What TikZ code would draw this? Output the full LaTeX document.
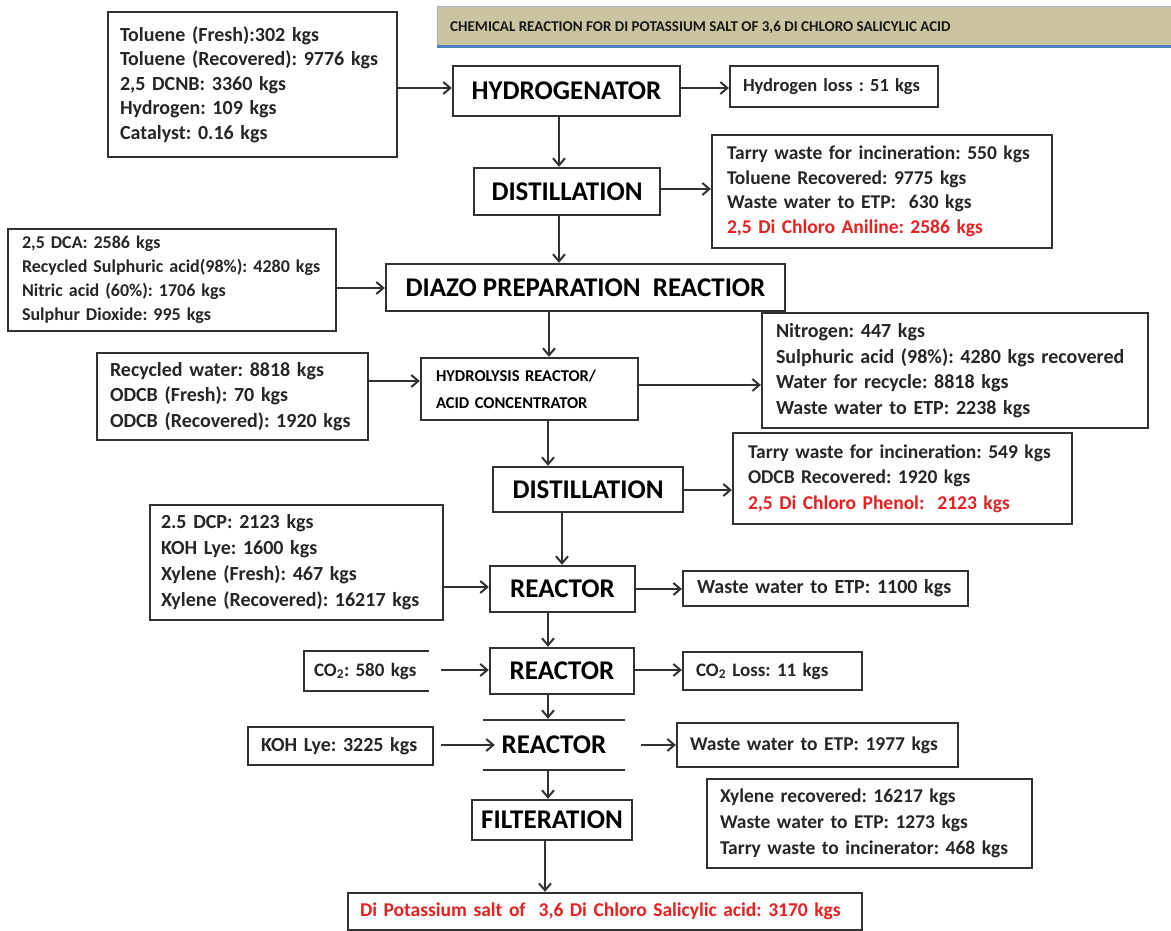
\documentclass[tikz,border=0pt]{standalone}
\usepackage{fontspec}
\setmainfont{Carlito}
\usetikzlibrary{arrows.meta}
\definecolor{ln}{RGB}{50,50,50}
\definecolor{rd}{RGB}{232,32,32}
\definecolor{tan}{RGB}{203,196,160}
\definecolor{tb}{RGB}{160,175,200}
\definecolor{tblue}{RGB}{79,129,189}
\frenchspacing
\tikzset{
  inbox/.style={draw=ln, line width=2.2pt, fill=white, align=left, inner ysep=2pt,
    font=\fontsize{20}{24.5}\selectfont\bfseries, text=black!85},
  proc/.style={draw=ln, line width=2.4pt, fill=white, align=center, inner sep=0pt,
    font=\fontsize{27}{30}\selectfont\bfseries, text=black},
  arr/.style={draw=ln, line width=2.4pt, -{Straight Barb[length=7pt,width=12pt,line width=2pt]}},
  ln2/.style={draw=ln, line width=2.4pt}
}
\begin{document}
\begin{tikzpicture}[x=1pt,y=-1pt]
\useasboundingbox (0,0) rectangle (1171,931);

% title
\fill[tan] (437,7) rectangle (1175,47);
\draw[tb, line width=1pt] (437,47) -- (437,7) -- (1175,7);
\draw[tblue, line width=3pt] (437,47) -- (1175,47);
\node[anchor=west, font=\fontsize{15}{17}\selectfont\bfseries, text=black!90, inner sep=0pt] (title) at (450,27)
  {CHEMICAL REACTION FOR DI POTASSIUM SALT OF 3,6 DI CHLORO SALICYLIC ACID};

% process boxes
\node[proc, minimum width=227pt, minimum height=50pt] (hyd) at (566.5,91) {HYDROGENATOR};
\node[proc, minimum width=186pt, minimum height=47pt] (dist1) at (567,191.5) {DISTILLATION};
\node[proc, minimum width=399pt, minimum height=47pt] (diazo) at (585.5,287.5) {DIAZO PREPARATION\ \ REACTIOR};
\node[proc, minimum width=217pt, minimum height=62pt, text width=187pt, align=left,
  font=\fontsize{16.5}{27}\selectfont\bfseries] (hydro) at (529.5,389) {HYDROLYSIS REACTOR/\\ACID CONCENTRATOR};
\node[proc, minimum width=190pt, minimum height=45pt] (dist2) at (588,489.5) {DISTILLATION};
\node[proc, minimum width=145pt, minimum height=46pt] (r1) at (562.5,589) {REACTOR};
\node[proc, minimum width=144pt, minimum height=46pt] (r2) at (562,671) {REACTOR};
\node[proc, draw=none, fill=none, minimum width=116pt, minimum height=50pt] (r3) at (554,745) {REACTOR};
\draw[ln2] (483,720) -- (625,720);
\draw[ln2] (483,770) -- (625,770);
\node[proc, minimum width=160pt, minimum height=40pt] (filt) at (552,820) {FILTERATION};

% input / output boxes
\node[inbox, minimum width=289pt, minimum height=145pt, text width=265pt, inner xsep=12pt] (in1) at (252.5,84.5)
  {Toluene (Fresh):302 kgs\\Toluene (Recovered): 9776 kgs\\2,5 DCNB: 3360 kgs\\Hydrogen: 109 kgs\\Catalyst: 0.16 kgs};
\node[inbox, minimum width=208pt, minimum height=41pt, text width=182pt, inner xsep=13pt,
  font=\fontsize{18.5}{22}\selectfont\bfseries] (hloss) at (834,86.5)
  {Hydrogen loss : 51 kgs};
\node[inbox, minimum width=340pt, minimum height=113pt, text width=310pt, inner xsep=15pt,
  font=\fontsize{19.5}{24.5}\selectfont\bfseries] (out1) at (882,191.5)
  {Tarry waste for incineration: 550 kgs\\Toluene Recovered: 9775 kgs\\Waste water to ETP:\ \ 630 kgs\\\textcolor{rd}{2,5 Di Chloro Aniline: 2586 kgs}};
\node[inbox, minimum width=328pt, minimum height=102pt, text width=300pt, inner xsep=14pt,
  font=\fontsize{18}{24}\selectfont\bfseries] (in2) at (172,280)
  {2,5 DCA: 2586 kgs\\Recycled Sulphuric acid(98\%): 4280 kgs\\Nitric acid (60\%): 1706 kgs\\Sulphur Dioxide: 995 kgs};
\node[inbox, minimum width=271pt, minimum height=87pt, text width=245pt, inner xsep=13pt,
  font=\fontsize{20}{25.5}\selectfont\bfseries] (in3) at (232.5,396.5)
  {Recycled water: 8818 kgs\\ODCB (Fresh): 70 kgs\\ODCB (Recovered): 1920 kgs};
\node[inbox, minimum width=386pt, minimum height=115pt, text width=358pt, inner xsep=14pt,
  font=\fontsize{20}{25.5}\selectfont\bfseries] (out2) at (955,370.5)
  {Nitrogen: 447 kgs\\Sulphuric acid (98\%): 4280 kgs recovered\\Water for recycle: 8818 kgs\\Waste water to ETP: 2238 kgs};
\node[inbox, minimum width=339pt, minimum height=91pt, text width=309pt, inner xsep=15pt,
  font=\fontsize{19.5}{25.5}\selectfont\bfseries] (out3) at (902.5,478.5)
  {Tarry waste for incineration: 549 kgs\\ODCB Recovered: 1920 kgs\\\textcolor{rd}{2,5 Di Chloro Phenol:\ \ 2123 kgs}};
\node[inbox, minimum width=293pt, minimum height=115pt, text width=271pt, inner xsep=11pt,
  font=\fontsize{20}{26}\selectfont\bfseries] (in4) at (296.5,562.5)
  {2.5 DCP: 2123 kgs\\KOH Lye: 1600 kgs\\Xylene (Fresh): 467 kgs\\Xylene (Recovered): 16217 kgs};
\node[inbox, minimum width=285pt, minimum height=35pt, text width=257pt, inner xsep=14pt,
  font=\fontsize{20}{22}\selectfont\bfseries] (out4) at (825.5,588.5)
  {Waste water to ETP: 1100 kgs};
% CO2 box (open on the right)
\node[inbox, draw=none, fill=none, minimum width=123pt, minimum height=38pt, text width=105pt, inner xsep=9pt,
  font=\fontsize{19}{22}\selectfont\bfseries] (co2) at (366.5,671)
  {CO\textsubscript{2}: 580 kgs};
\draw[draw=ln, line width=2.2pt] (co2.north east) -- (co2.north west) -- (co2.south west) -- (co2.south east);
\node[inbox, minimum width=179pt, minimum height=38pt, text width=153pt, inner xsep=13pt,
  font=\fontsize{19}{22}\selectfont\bfseries] (co2loss) at (772.5,671)
  {CO\textsubscript{2} Loss: 11 kgs};
\node[inbox, minimum width=185pt, minimum height=38pt, text width=159pt, inner xsep=13pt,
  font=\fontsize{20}{22}\selectfont\bfseries] (koh) at (340.5,746)
  {KOH Lye: 3225 kgs};
\node[inbox, minimum width=281pt, minimum height=44pt, text width=255pt, inner xsep=13pt,
  font=\fontsize{19.5}{22}\selectfont\bfseries] (out5) at (817.5,745)
  {Waste water to ETP: 1977 kgs};
\node[inbox, minimum width=325pt, minimum height=89pt, text width=299pt, inner xsep=13pt,
  font=\fontsize{19.5}{26}\selectfont\bfseries] (out6) at (869.5,823.5)
  {Xylene recovered: 16217 kgs\\Waste water to ETP: 1273 kgs\\Tarry waste to incinerator: 468 kgs};
\node[inbox, minimum width=514pt, minimum height=37pt, text width=490pt, inner xsep=12pt,
  font=\fontsize{19.5}{22}\selectfont\bfseries, text=rd] (final) at (605,911.5)
  {Di Potassium salt of\ \ 3,6 Di Chloro Salicylic acid: 3170 kgs};

% vertical connectors
\draw[arr] (hyd.south -| 559,0) -- (dist1.north -| 559,0);
\draw[arr] (dist1.south -| 559,0) -- (diazo.north -| 559,0);
\draw[arr] (diazo.south -| 549,0) -- (hydro.north -| 549,0);
\draw[arr] (hydro.south -| 548,0) -- (dist2.north -| 548,0);
\draw[arr] (dist2.south -| 562,0) -- (r1.north -| 562,0);
\draw[arr] (r1.south -| 548,0) -- (r2.north -| 548,0);
\draw[arr] (r2.south -| 548,0) -- (r3.north -| 548,0);
\draw[arr] (r3.south -| 548,0) -- (filt.north -| 548,0);
\draw[arr] (filt.south -| 545,0) -- (final.north -| 545,0);

% horizontal connectors
\draw[arr] (in1.east |- 0,88) -- (hyd.west |- 0,88);
\draw[arr] (hyd.east |- 0,88) -- (hloss.west |- 0,88);
\draw[arr] (dist1.east |- 0,189) -- (out1.west |- 0,189);
\draw[arr] (in2.east |- 0,288) -- (diazo.west |- 0,288);
\draw[arr] (in3.east |- 0,381) -- (hydro.west |- 0,381);
\draw[arr] (hydro.east |- 0,385) -- (out2.west |- 0,385);
\draw[arr] (dist2.east |- 0,490) -- (out3.west |- 0,490);
\draw[arr] (in4.east |- 0,587) -- (r1.west |- 0,587);
\draw[arr] (r1.east |- 0,589) -- (out4.west |- 0,589);
\draw[arr] ([xshift=12pt]co2.east |- 0,670) -- (r2.west |- 0,670);
\draw[arr] (r2.east |- 0,670) -- (co2loss.west |- 0,670);
\draw[arr] ([xshift=7pt]koh.east |- 0,745) -- (r3.west |- 0,745);
\draw[arr] ([xshift=28pt]r3.east |- 0,745) -- (out5.west |- 0,745);
\end{tikzpicture}
\end{document}
